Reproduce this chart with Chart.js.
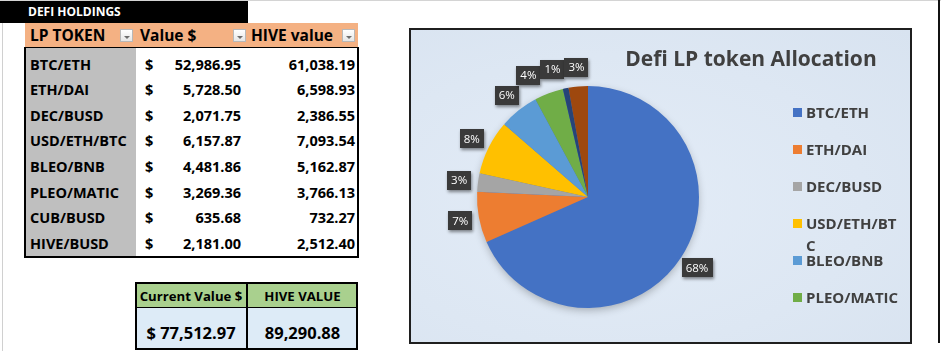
<!DOCTYPE html>
<html>
<head>
<meta charset="utf-8">
<script src="https://cdn.jsdelivr.net/npm/chart.js@4.4.0/dist/chart.umd.min.js"></script>
<style>
  body { margin: 0; background: #fff; font-family: "Open Sans", sans-serif; }
  #page { position: relative; width: 941px; height: 351px; overflow: hidden; }
  .abs { position: absolute; }
  #topline { left: 0; top: 0; width: 941px; height: 1px; background: #d4d4d4; }
  #leftline { left: 2px; top: 22px; width: 1px; height: 329px; background: #d0d0d0; }
  #rightline { left: 938px; top: 0; width: 2px; height: 343px; background: #111; }
  #defi { left: 0; top: 1px; width: 248px; height: 22px; background: #000; color: #fff;
          font-weight: bold; font-size: 12px; line-height: 22px; padding-left: 28px; box-sizing: border-box; }
  #head { left: 25px; top: 23px; width: 333px; height: 24px; background: #F4B183; }
  .hcell { position: absolute; top: 0; font-weight: bold; font-size: 15.5px; line-height: 24px; color: #000; }
  .dd { position: absolute; top: 6px; width: 13px; height: 13px; border: 1px solid #b8b8b8;
        background: linear-gradient(#ffffff, #e6e6e6); box-sizing: border-box; }
  .dd:after { content: ""; position: absolute; left: 3px; top: 6px; border-left: 3px solid transparent;
              border-right: 3px solid transparent; border-top: 3px solid #6d6d6d; }
  #body { left: 24px; top: 47px; width: 335px; height: 211px; border: 2px solid #000; border-top-width: 1.5px;
          box-sizing: border-box; background: #fff; }
  #graycol { left: 26px; top: 48px; width: 110px; height: 208px; background: #BFBFBF; }
  .cell { position: absolute; font-weight: bold; font-size: 14.5px; line-height: 25.6px; height: 25.6px; color: #000; white-space: nowrap; }
  #tot { left: 135px; top: 282px; width: 223px; height: 68px; border: 2px solid #000; box-sizing: border-box; background: #DDEBF7; }
  #totHead { left: 137px; top: 284px; width: 219px; height: 24px; background: #A9D08E; border-bottom: 1.5px solid #000; box-sizing: border-box; }
  #totDiv { left: 246px; top: 282px; width: 2px; height: 68px; background: #000; }
  .th { position: absolute; top: 284px; height: 24px; line-height: 24px; font-weight: bold; font-size: 13.2px; text-align: center; color: #000; white-space: nowrap; }
  .tv { position: absolute; top: 318px; height: 30px; line-height: 30px; font-weight: bold; font-size: 16.5px; text-align: center; color: #000; }
  #chartBox { left: 409px; top: 28px; width: 503px; height: 316px; border: 2px solid #1f1f1f; box-sizing: border-box;
              background: radial-gradient(ellipse at 40% 55%, #e3ecf7 0%, #dde7f3 60%, #d8e3f0 100%); }
  #title { left: 560px; top: 44px; width: 382px; text-align: center; font-weight: bold; font-size: 21px; line-height: 28px; color: #404040; }
  .lg { position: absolute; left: 793px; width: 110px; font-weight: bold; font-size: 15px; line-height: 22px; color: #404040; }
  .lg .sw { position: absolute; left: 0; top: 7px; width: 9px; height: 9px; }
  .lg .tx { position: absolute; left: 13px; top: 0; width: 93px; word-break: break-all; }
</style>
</head>
<body>
<div id="page">
  <div id="topline" class="abs"></div>
  <div id="leftline" class="abs"></div>
  <div id="rightline" class="abs"></div>
  <div id="defi" class="abs">DEFI HOLDINGS</div>
  <div id="head" class="abs"></div>
  <div id="body" class="abs"></div>
  <div id="graycol" class="abs"></div>
  <div id="tot" class="abs"></div>
  <div id="totHead" class="abs"></div>
  <div id="totDiv" class="abs"></div>
  <div id="chartBox" class="abs">
    <canvas id="myChart" width="499" height="312"></canvas>
  </div>
  <div id="title" class="abs">Defi LP token Allocation</div>
</div>
<script>
var tokens = ["BTC/ETH", "ETH/DAI", "DEC/BUSD", "USD/ETH/BTC", "BLEO/BNB", "PLEO/MATIC", "CUB/BUSD", "HIVE/BUSD"];
var usdValues = [52986.95, 5728.50, 2071.75, 6157.87, 4481.86, 3269.36, 635.68, 2181.00];
var hiveValues = [61038.19, 6598.93, 2386.55, 7093.54, 5162.87, 3766.13, 732.27, 2512.40];
var headers = ["LP TOKEN", "Value $", "HIVE value"];
var totalHeaders = ["Current Value $", "HIVE VALUE"];
var colors = ["#4472C4", "#ED7D31", "#A5A5A5", "#FFC000", "#5B9BD5", "#70AD47", "#264478", "#9E480E"];
var legendShown = 6;

var page = document.getElementById("page");
function fmt(v) {
  return v.toLocaleString("en-US", {minimumFractionDigits: 2, maximumFractionDigits: 2});
}
function add(cls, text, css) {
  var d = document.createElement("div");
  d.className = cls;
  d.textContent = text;
  for (var k in css) d.style[k] = css[k];
  page.appendChild(d);
  return d;
}

// header row of the holdings table
var hx = [30, 140, 251];
var ddx = [120, 233, 342];
for (var i = 0; i < headers.length; i++) {
  add("hcell", headers[i], {left: hx[i] + "px", top: "23px"});
  add("dd", "", {left: ddx[i] + "px", top: "29px"});
}

// data rows
for (var i = 0; i < tokens.length; i++) {
  var rowTop = (51.6 + i * 25.6) + "px";
  add("cell", tokens[i], {left: "30px", top: rowTop});
  add("cell", "$", {left: "145px", top: rowTop});
  add("cell", fmt(usdValues[i]), {left: "150px", width: "91px", textAlign: "right", top: rowTop});
  add("cell", fmt(hiveValues[i]), {left: "250px", width: "105px", textAlign: "right", top: rowTop});
}

// totals
var usdTotal = usdValues.reduce(function(a, b) { return a + b; }, 0);
var hiveTotal = hiveValues.reduce(function(a, b) { return a + b; }, 0);
add("th", totalHeaders[0], {left: "135px", width: "112px"});
add("th", totalHeaders[1], {left: "247px", width: "111px"});
add("tv", "$ " + fmt(usdTotal), {left: "135px", width: "112px"});
add("tv", fmt(hiveTotal), {left: "247px", width: "111px"});

// legend (Excel only shows the first six entries)
for (var i = 0; i < legendShown; i++) {
  var lg = document.createElement("div");
  lg.className = "lg";
  lg.style.top = (101 + i * 37) + "px";
  lg.innerHTML = '<div class="sw" style="background:' + colors[i] + '"></div><div class="tx"></div>';
  lg.querySelector(".tx").textContent = tokens[i];
  page.appendChild(lg);
}

var pieShadow = {
  id: "pieShadow",
  beforeDatasetsDraw: function(chart) {
    var arc = chart.getDatasetMeta(0).data[0];
    if (!arc) return;
    var ctx = chart.ctx;
    ctx.save();
    ctx.shadowColor = "rgba(0,0,0,0.28)";
    ctx.shadowBlur = 9;
    ctx.shadowOffsetY = 3;
    ctx.fillStyle = "#4472C4";
    ctx.beginPath();
    ctx.arc(arc.x, arc.y, arc.outerRadius - 1, 0, Math.PI * 2);
    ctx.fill();
    ctx.restore();
  }
};

var pctLabels = {
  id: "pctLabels",
  afterDatasetsDraw: function(chart) {
    var ctx = chart.ctx;
    var data = chart.data.datasets[0].data;
    var total = data.reduce(function(a, b) { return a + b; }, 0);
    ctx.save();
    ctx.font = '11.5px "Open Sans"';
    var boxes = [];
    chart.getDatasetMeta(0).data.forEach(function(arc, i) {
      var mid = (arc.startAngle + arc.endAngle) / 2;
      var r = arc.outerRadius + 19;
      var text = Math.round(data[i] / total * 100) + "%";
      boxes.push({x: arc.x + Math.cos(mid) * r, y: arc.y + Math.sin(mid) * r,
                  w: ctx.measureText(text).width + 8, h: 19, text: text});
    });
    // push crowded labels apart, like Excel does
    for (var i = boxes.length - 2; i >= 0; i--) {
      var a = boxes[i], b = boxes[i + 1];
      if (Math.abs(a.y - b.y) < a.h && a.x < b.x && a.x + a.w / 2 > b.x - b.w / 2) {
        a.x = b.x - b.w / 2 - a.w / 2;
      }
    }
    boxes.forEach(function(bx) {
      ctx.save();
      ctx.shadowColor = "rgba(0,0,0,0.45)";
      ctx.shadowBlur = 3;
      ctx.shadowOffsetX = 1;
      ctx.shadowOffsetY = 2;
      ctx.fillStyle = "#3a3a3a";
      ctx.fillRect(Math.round(bx.x - bx.w / 2), Math.round(bx.y - bx.h / 2), Math.round(bx.w), bx.h);
      ctx.restore();
      ctx.fillStyle = "#ffffff";
      ctx.textAlign = "center";
      ctx.textBaseline = "middle";
      ctx.fillText(bx.text, bx.x, bx.y + 0.5);
    });
    ctx.restore();
  }
};

var config = {
  type: "pie",
  data: {
    labels: tokens,
    datasets: [{
      data: usdValues,
      backgroundColor: colors,
      borderWidth: 0,
      hoverOffset: 0,
      offset: 0
    }]
  },
  options: {
    responsive: false,
    animation: false,
    layout: { padding: { left: 66, top: 56, right: 211, bottom: 34 } },
    plugins: {
      legend: { display: false },
      title: { display: false },
      tooltip: { enabled: false }
    }
  },
  plugins: [pieShadow, pctLabels]
};

var ctx = document.getElementById("myChart").getContext("2d");
var myChart = new Chart(ctx, config);
</script>
</body>
</html>
